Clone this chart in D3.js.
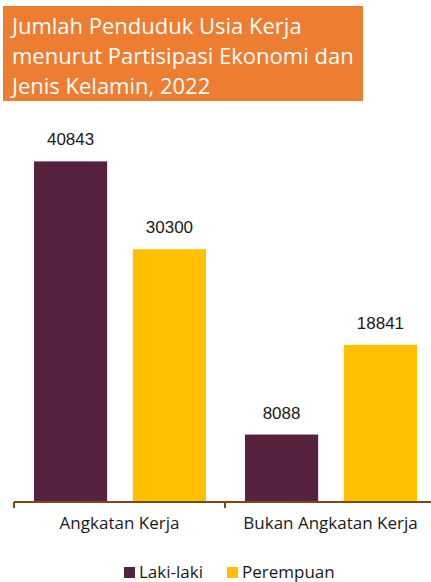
<!DOCTYPE html>
<html>
<head>
<meta charset="utf-8">
<script src="https://cdn.jsdelivr.net/npm/d3@7"></script>
<style>
  html, body { margin: 0; padding: 0; background: #fff; }
  svg { display: block; }
</style>
</head>
<body>
<svg id="chart" width="431" height="582"></svg>
<script>
// Working-age population by economic participation and sex, 2022
const titleLines = ["Jumlah Penduduk Usia Kerja", "menurut Partisipasi Ekonomi dan", "Jenis Kelamin, 2022"];
const categories = ["Angkatan Kerja", "Bukan Angkatan Kerja"];
const seriesNames = ["Laki-laki", "Perempuan"];
const lakiLaki = [40843, 8088];
const perempuan = [30300, 18841];
const seriesColors = ["#55213E", "#FFC000"];

const svg = d3.select("#chart");

// Title banner
const titleG = svg.append("g");
titleG.append("rect")
  .attr("x", 3).attr("y", 6).attr("width", 360).attr("height", 95)
  .attr("fill", "#ED7D31");
titleG.selectAll("text").data(titleLines).join("text")
  .attr("x", 12)
  .attr("y", (d, i) => 34 + i * 30)
  .attr("fill", "#fff")
  .attr("font-family", "'Open Sans', sans-serif")
  .attr("font-size", 22)
  .text(d => d);

// Scales
const x0 = d3.scaleBand().domain(categories).range([14, 436]).paddingInner(0).paddingOuter(0);
const x1 = d3.scaleBand().domain(seriesNames).range([20, 192]).paddingInner(0.26).paddingOuter(0);
const y = d3.scaleLinear().domain([0, 50000]).range([502, 85]);

const rows = categories.map((c, i) => ({ cat: c, values: [lakiLaki[i], perempuan[i]] }));

const groups = svg.append("g").selectAll("g").data(rows).join("g")
  .attr("transform", d => `translate(${x0(d.cat)},0)`);

const bars = groups.selectAll("g.bar")
  .data(d => d.values.map((v, j) => ({ name: seriesNames[j], value: v, color: seriesColors[j] })))
  .join("g").attr("class", "bar");

bars.append("rect")
  .attr("x", d => x1(d.name))
  .attr("width", x1.bandwidth())
  .attr("y", d => y(d.value))
  .attr("height", d => y(0) - y(d.value))
  .attr("fill", d => d.color);

bars.append("text")
  .attr("x", d => x1(d.name) + x1.bandwidth() / 2)
  .attr("y", d => y(d.value) - 16)
  .attr("text-anchor", "middle")
  .attr("font-family", "'Liberation Sans', Arial, sans-serif")
  .attr("font-size", 17)
  .attr("fill", "#1a1a1a")
  .text(d => d.value);

// Category axis
const axis = svg.append("g").attr("transform", "translate(0,502)")
  .call(d3.axisBottom(x0).tickSize(0).tickPadding(15));
axis.select(".domain").remove();
axis.append("line")
  .attr("x1", 14).attr("x2", 431).attr("y1", 0).attr("y2", 0)
  .attr("stroke", "#7B4A12").attr("stroke-width", 2);
axis.selectAll(".boundary").data([14, x0(categories[1])]).join("line")
  .attr("class", "boundary")
  .attr("x1", d => d).attr("x2", d => d)
  .attr("y1", 0).attr("y2", 6)
  .attr("stroke", "#7B4A12").attr("stroke-width", 2);
axis.selectAll(".tick text")
  .attr("font-family", "'Open Sans', sans-serif")
  .attr("font-size", 17)
  .attr("fill", "#1a1a1a");

// Legend
const legend = svg.append("g");
const legendX = [124, 227];
const lg = legend.selectAll("g").data(seriesNames).join("g")
  .attr("transform", (d, i) => `translate(${legendX[i]},567)`);
lg.append("rect").attr("width", 11).attr("height", 11)
  .attr("fill", (d, i) => seriesColors[i]);
lg.append("text")
  .attr("x", 15).attr("y", 10.5)
  .attr("font-family", "'Open Sans', sans-serif")
  .attr("font-size", 17)
  .attr("fill", "#1a1a1a")
  .text(d => d);
</script>
</body>
</html>
